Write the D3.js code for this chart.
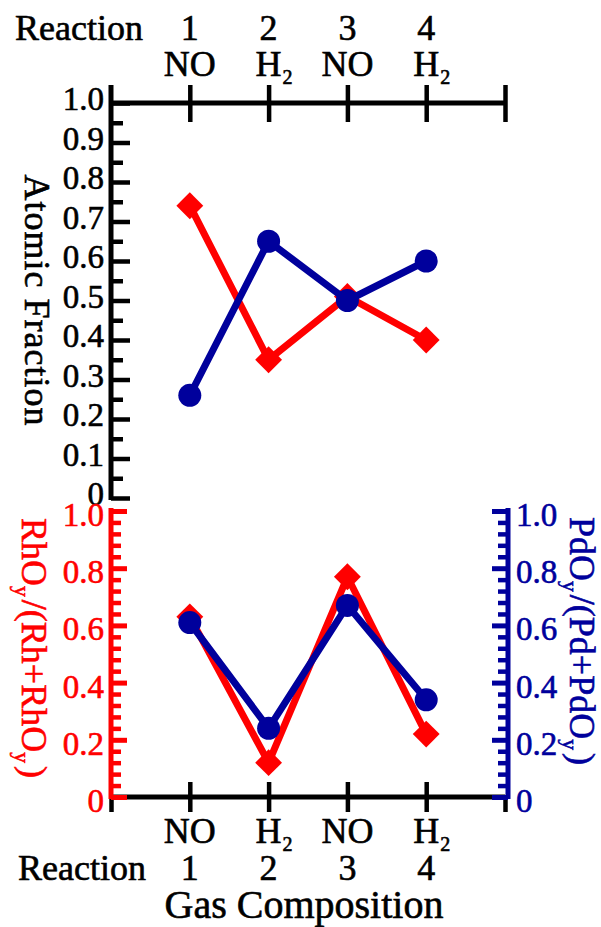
<!DOCTYPE html>
<html><head><meta charset="utf-8">
<script src="https://cdn.jsdelivr.net/npm/d3@7"></script>
<style>
html,body{margin:0;padding:0;background:#fff;}
svg{display:block;}
text{stroke-width:0.6px;}
</style></head><body>
<svg id="c" width="601" height="927" font-family="'Liberation Serif', 'Times New Roman', serif"></svg>
<script>
// ---- data ----
const reactions = ["1", "2", "3", "4"];
const gases = ["NO", "H2", "NO", "H2"];
const atomicRh = [0.74, 0.35, 0.51, 0.40];   // red diamonds, top panel
const atomicPd = [0.26, 0.65, 0.50, 0.60];   // blue circles, top panel
const rhOxide = [0.63, 0.12, 0.77, 0.22];    // RhOy/(Rh+RhOy), bottom panel
const pdOxide = [0.61, 0.24, 0.67, 0.34];    // PdOy/(Pd+PdOy), bottom panel
const topTickValues = [0, 0.1, 0.2, 0.3, 0.4, 0.5, 0.6, 0.7, 0.8, 0.9, 1.0];
const topTickLabels = ["0", "0.1", "0.2", "0.3", "0.4", "0.5", "0.6", "0.7", "0.8", "0.9", "1.0"];
const botTickValues = [0, 0.2, 0.4, 0.6, 0.8, 1.0];
const botTickLabels = ["0", "0.2", "0.4", "0.6", "0.8", "1.0"];

const RED = "#ff0000", BLUE = "#00009c", BLACK = "#000000";
const svg = d3.select("#c");

// ---- scales ----
const x = d3.scaleLinear().domain([0, 5]).range([111, 505]);
const yT = d3.scaleLinear().domain([0, 1]).range([498, 103]);
const yB = d3.scaleLinear().domain([0, 1]).range([797, 511]);
const catIdx = reactions.map((r, i) => i + 1);
const xEnds = [0, 1, 2, 3, 4, 5];

function styleAxis(g, color, w) {
  g.select(".domain").remove();
  g.selectAll(".tick line").attr("stroke", color).attr("stroke-width", w);
  g.selectAll(".tick text").remove();
}
function txt(sel, color) { return sel.attr("fill", color).attr("stroke", color); }

// ================= TOP PANEL =================
svg.append("line").attr("x1", x(0)).attr("x2", x(0))
  .attr("y1", yT(1) - 18).attr("y2", yT(0) + 2)
  .attr("stroke", BLACK).attr("stroke-width", 5);
svg.append("g").attr("transform", `translate(${x(0)},0)`)
  .call(d3.axisRight(yT).tickValues(topTickValues).tickSize(19).tickSizeOuter(0))
  .call(g => styleAxis(g, BLACK, 4.5));
svg.append("g").attr("transform", `translate(${x(0)},0)`)
  .call(d3.axisRight(yT).tickValues(d3.range(0.05, 1, 0.1)).tickSize(12).tickSizeOuter(0))
  .call(g => styleAxis(g, BLACK, 4.5));
txt(svg.append("g").selectAll("text").data(topTickValues).join("text")
  .attr("x", 104).attr("y", d => yT(d) + 7)
  .attr("text-anchor", "end").attr("font-size", 33)
  .text((d, i) => topTickLabels[i]), BLACK);

svg.append("line").attr("x1", x(0)).attr("x2", x(5))
  .attr("y1", yT(1)).attr("y2", yT(1))
  .attr("stroke", BLACK).attr("stroke-width", 5);
svg.append("g").attr("transform", `translate(0,${yT(1)})`)
  .call(d3.axisTop(x).tickValues(xEnds.slice(1)).tickSize(18).tickSizeOuter(0))
  .call(g => styleAxis(g, BLACK, 4.5));
svg.append("g").attr("transform", `translate(0,${yT(1)})`)
  .call(d3.axisBottom(x).tickValues(xEnds.slice(1)).tickSize(19).tickSizeOuter(0))
  .call(g => styleAxis(g, BLACK, 4.5));

txt(svg.append("text")
  .attr("transform", `translate(25,${(yT(0.3) + yT(0.7)) / 2}) rotate(90)`)
  .attr("text-anchor", "middle").attr("font-size", 36)
  .attr("letter-spacing", 1)
  .text("Atomic Fraction"), BLACK);

// ================= BOTTOM PANEL =================
svg.append("line").attr("x1", x(0)).attr("x2", x(5))
  .attr("y1", yB(0)).attr("y2", yB(0))
  .attr("stroke", BLACK).attr("stroke-width", 5);
svg.append("g").attr("transform", `translate(0,${yB(0)})`)
  .call(d3.axisBottom(x).tickValues(xEnds).tickSize(15).tickSizeOuter(0))
  .call(g => styleAxis(g, BLACK, 4.5));
svg.append("g").attr("transform", `translate(0,${yB(0)})`)
  .call(d3.axisTop(x).tickValues(catIdx).tickSize(15).tickSizeOuter(0))
  .call(g => styleAxis(g, BLACK, 4.5));

const minorBot = d3.range(0.04, 0.99, 0.04).filter(v => Math.abs(v * 5 - Math.round(v * 5)) > 0.01);

svg.append("line").attr("x1", x(0)).attr("x2", x(0))
  .attr("y1", yB(1) - 3).attr("y2", yB(0) + 2)
  .attr("stroke", RED).attr("stroke-width", 5);
svg.append("g").attr("transform", `translate(${x(0)},0)`)
  .call(d3.axisRight(yB).tickValues(botTickValues).tickSize(16).tickSizeOuter(0))
  .call(g => styleAxis(g, RED, 5));
svg.append("g").attr("transform", `translate(${x(0)},0)`)
  .call(d3.axisRight(yB).tickValues(minorBot).tickSize(10).tickSizeOuter(0))
  .call(g => styleAxis(g, RED, 4.5));
txt(svg.append("g").selectAll("text").data(botTickValues).join("text")
  .attr("x", 104).attr("y", d => yB(d) + 15)
  .attr("text-anchor", "end").attr("font-size", 33)
  .text((d, i) => botTickLabels[i]), RED);

const xr = x(5) + 3;
svg.append("line").attr("x1", xr).attr("x2", xr)
  .attr("y1", yB(1) - 3).attr("y2", yB(0) + 2)
  .attr("stroke", BLUE).attr("stroke-width", 5);
svg.append("g").attr("transform", `translate(${xr},0)`)
  .call(d3.axisLeft(yB).tickValues(botTickValues).tickSize(16).tickSizeOuter(0))
  .call(g => styleAxis(g, BLUE, 5));
svg.append("g").attr("transform", `translate(${xr},0)`)
  .call(d3.axisLeft(yB).tickValues(minorBot).tickSize(10).tickSizeOuter(0))
  .call(g => styleAxis(g, BLUE, 4.5));
txt(svg.append("g").selectAll("text").data(botTickValues).join("text")
  .attr("x", xr + 8).attr("y", d => yB(d) + 15)
  .attr("text-anchor", "start").attr("font-size", 33)
  .text((d, i) => botTickLabels[i]), BLUE);

function rotTitle(cx, cy, color, parts, size) {
  const t = txt(svg.append("text")
    .attr("transform", `translate(${cx},${cy}) rotate(90)`)
    .attr("text-anchor", "middle").attr("font-size", size), color);
  parts.forEach(p => {
    if (p.sub) {
      t.append("tspan").attr("font-size", size * 0.6).attr("dy", 7).text(p.s);
      t.append("tspan").attr("dy", -7).text("\u200A");
    } else {
      t.append("tspan").text(p.s);
    }
  });
}
rotTitle(22, 648, RED, [{s:"RhO"},{s:"y",sub:1},{s:"/(Rh+RhO"},{s:"y",sub:1},{s:")"}], 36);
rotTitle(570, 641, BLUE, [{s:"PdO"},{s:"y",sub:1},{s:"/(Pd+PdO"},{s:"y",sub:1},{s:")"}], 36);

// ================= CATEGORY LABELS =================
function gasLabel(cx, baseline, g) {
  if (g === "H2") {
    const t = txt(svg.append("text").attr("x", cx).attr("y", baseline)
      .attr("text-anchor", "middle").attr("font-size", 36).text("H"), BLACK);
    const w = t.node().getComputedTextLength();
    txt(svg.append("text").attr("x", cx + w / 2 + 1).attr("y", baseline + 8)
      .attr("font-size", 20).text("2"), BLACK);
  } else {
    txt(svg.append("text").attr("x", cx).attr("y", baseline)
      .attr("text-anchor", "middle").attr("font-size", 36).text(g), BLACK);
  }
}
txt(svg.append("text").attr("x", 15).attr("y", 40).attr("font-size", 36).text("Reaction"), BLACK);
reactions.forEach((r, i) => {
  txt(svg.append("text").attr("x", x(catIdx[i])).attr("y", 40)
    .attr("text-anchor", "middle").attr("font-size", 36).text(r), BLACK);
  gasLabel(x(catIdx[i]), 76, gases[i]);
});
txt(svg.append("text").attr("x", 18).attr("y", 880).attr("font-size", 36).text("Reaction"), BLACK);
reactions.forEach((r, i) => {
  gasLabel(x(catIdx[i]), 843, gases[i]);
  txt(svg.append("text").attr("x", x(catIdx[i])).attr("y", 880)
    .attr("text-anchor", "middle").attr("font-size", 36).text(r), BLACK);
});
txt(svg.append("text").attr("x", 304).attr("y", 918)
  .attr("text-anchor", "middle").attr("font-size", 40).text("Gas Composition"), BLACK);

// ================= SERIES =================
const diamond = d3.symbol().type(d3.symbolSquare).size(19 * 19);
function series(vals, yS, color, kind) {
  const pts = vals.map((v, i) => [x(catIdx[i]), yS(v)]);
  svg.append("path").attr("d", d3.line()(pts)).attr("fill", "none")
    .attr("stroke", color).attr("stroke-width", 7).attr("stroke-linejoin", "round");
  const g = svg.append("g");
  if (kind === "diamond") {
    g.selectAll("path").data(pts).join("path")
      .attr("d", diamond).attr("transform", d => `translate(${d[0]},${d[1]}) rotate(45)`)
      .attr("fill", color);
  } else {
    g.selectAll("circle").data(pts).join("circle")
      .attr("cx", d => d[0]).attr("cy", d => d[1]).attr("r", 11.5).attr("fill", color);
  }
}
series(atomicRh, yT, RED, "diamond");
series(atomicPd, yT, BLUE, "circle");
series(rhOxide, yB, RED, "diamond");
series(pdOxide, yB, BLUE, "circle");
</script>
</body></html>
